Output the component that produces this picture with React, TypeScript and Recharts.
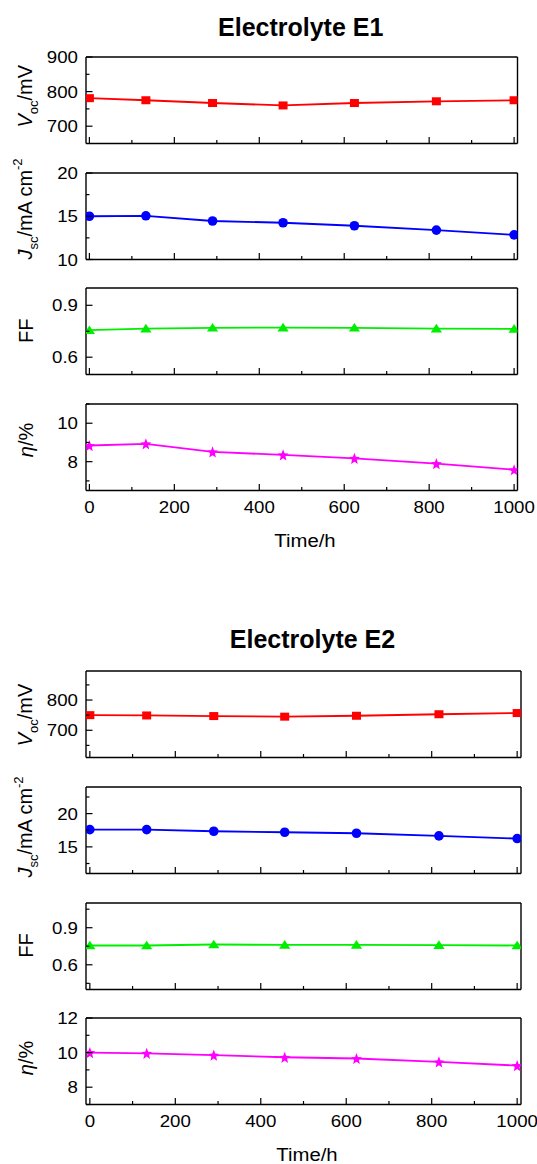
import React from 'react';
import { LineChart, Line, XAxis, YAxis } from 'recharts';

// ---------- data ----------
const TIME_H = [0, 133, 290, 456, 624, 817, 1000];
const X_MAJOR = [0, 200, 400, 600, 800, 1000];
const X_MINOR = [100, 300, 500, 700, 900];

const E1_VOC = [781, 775, 767, 760, 767, 772, 775];
const E1_JSC = [15.0, 15.05, 14.45, 14.25, 13.9, 13.4, 12.85];
const E1_FF = [0.756, 0.765, 0.77, 0.771, 0.77, 0.765, 0.764];
const E1_ETA = [8.84, 8.93, 8.51, 8.35, 8.17, 7.9, 7.58];

const E2_VOC = [750, 749, 747, 745, 748, 753, 757];
const E2_JSC = [17.6, 17.6, 17.35, 17.2, 17.05, 16.65, 16.25];
const E2_FF = [0.756, 0.756, 0.764, 0.761, 0.761, 0.759, 0.756];
const E2_ETA = [10.0, 9.96, 9.85, 9.73, 9.66, 9.46, 9.25];

const TITLES = ['Electrolyte E1', 'Electrolyte E2'];
const X_TITLE = 'Time/h';

const E1_VOC_TICKS = { major: [700, 800, 900], minor: [750, 850] };
const E1_JSC_TICKS = { major: [10, 15, 20], minor: [12.5, 17.5] };
const E1_FF_TICKS = { major: [0.6, 0.9], minor: [0.75] };
const E1_ETA_TICKS = { major: [8, 10], minor: [7, 9, 11] };
const E2_VOC_TICKS = { major: [700, 800], minor: [650, 750, 850] };
const E2_JSC_TICKS = { major: [15, 20], minor: [12.5, 17.5, 22.5] };
const E2_FF_TICKS = { major: [0.6, 0.9], minor: [0.45, 0.75, 1.05] };
const E2_ETA_TICKS = { major: [8, 10, 12], minor: [7, 9, 11] };

// ---------- layout ----------
const W = 537;
const PLOT_H = 86.5;
const FONT = '"Liberation Sans", Arial, Helvetica, sans-serif';
const COLORS = { voc: '#ff0000', jsc: '#0000ff', ff: '#00ee00', eta: '#ff00ff' };
const TICK_SX = 1.1;
const TITLE_SX = 1.05;

type Kind = 'voc' | 'jsc' | 'ff' | 'eta';

const AxisTitle = ({ kind, bx, cy }: { kind: Kind; bx: number; cy: number }) => {
  const common = {
    transform: `translate(${bx} ${cy}) scale(${TITLE_SX} 1) rotate(-90)`,
    textAnchor: 'middle' as const,
    fontSize: 20,
    fontFamily: FONT,
    fill: '#000',
  };
  if (kind === 'voc')
    return (
      <text {...common}>
        <tspan fontStyle="italic">V</tspan>
        <tspan fontSize={13} dy={6}>oc</tspan>
        <tspan dy={-6}>/mV</tspan>
      </text>
    );
  if (kind === 'jsc')
    return (
      <text {...common}>
        <tspan fontStyle="italic">J</tspan>
        <tspan fontSize={13} dy={6}>sc</tspan>
        <tspan dy={-6}>/mA cm</tspan>
        <tspan fontSize={13} dy={-9}>-2</tspan>
      </text>
    );
  if (kind === 'ff') return <text {...common}>FF</text>;
  return (
    <text {...common}>
      <tspan fontStyle="italic">η</tspan>
      <tspan>/%</tspan>
    </text>
  );
};

const Marker = ({ kind, cx, cy, color }: { kind: Kind; cx: number; cy: number; color: string }) => {
  if (kind === 'voc') return <rect x={cx - 4.5} y={cy - 4} width={9} height={8} fill={color} />;
  if (kind === 'jsc') return <circle cx={cx} cy={cy} r={4.8} fill={color} />;
  if (kind === 'ff')
    return (
      <polygon
        points={`${cx},${cy - 4.8} ${cx - 5.6},${cy + 3.8} ${cx + 5.6},${cy + 3.8}`}
        fill={color}
      />
    );
  const pts: string[] = [];
  for (let k = 0; k < 10; k++) {
    const a = (-90 + k * 36) * (Math.PI / 180);
    const r = k % 2 === 0 ? 6.2 : 2.7;
    pts.push(`${cx + r * Math.cos(a) * 0.92},${cy + 0.6 + r * Math.sin(a)}`);
  }
  return <polygon points={pts.join(' ')} fill={color} />;
};

interface PanelProps {
  top: number;
  left: number;
  right: number;
  xDomain: [number, number];
  yDomain: [number, number];
  ticks: { major: number[]; minor: number[] };
  values: number[];
  kind: Kind;
  titlePos: [number, number];
  figTitle?: { text: string; x: number; y: number };
  xTitle?: { x: number; labelDy: number; titleDy: number };
}

const Panel = ({ top, left, right, xDomain, yDomain, ticks, values, kind, titlePos, figTitle, xTitle }: PanelProps) => {
  const padTop = figTitle ? 62 : 18;
  const padBottom = xTitle ? 66 : 14;
  const chartTop = top - padTop;
  const H = PLOT_H + padTop + padBottom;
  const pb = padTop + PLOT_H;
  const color = COLORS[kind];
  const data = TIME_H.map((t, i) => ({ t, v: values[i] }));

  const renderXTick = (p: any) => {
    const v = p.payload.value;
    const x = p.x;
    const major = X_MAJOR.includes(v);
    return (
      <g key={`xt${v}`}>
        <line x1={x} x2={x} y1={pb} y2={pb - (major ? 6.5 : 3.5)} stroke="#000" strokeWidth={1.2} />
        {major && xTitle && (
          <text
            transform={`translate(${x} ${pb + xTitle.labelDy}) scale(${TICK_SX} 1)`}
            textAnchor="middle"
            fontSize={17}
            fontFamily={FONT}
            fill="#000"
          >
            {v}
          </text>
        )}
      </g>
    );
  };

  const renderYTick = (p: any) => {
    const v = p.payload.value;
    const y = p.y;
    const major = ticks.major.includes(v);
    return (
      <g key={`yt${v}`}>
        <line x1={left} x2={left + (major ? 6.5 : 3.5)} y1={y} y2={y} stroke="#000" strokeWidth={1.2} />
        {major && (
          <text
            transform={`translate(${left - 8} ${y + 6}) scale(${TICK_SX} 1)`}
            textAnchor="end"
            fontSize={17}
            fontFamily={FONT}
            fill="#000"
          >
            {String(v)}
          </text>
        )}
      </g>
    );
  };

  const renderExtras = () => (
    <g>
      <line x1={left} x2={right} y1={padTop} y2={padTop} stroke="#000" strokeWidth={1.4} />
      <line x1={right} x2={right} y1={padTop} y2={pb} stroke="#000" strokeWidth={1.4} />
      <AxisTitle kind={kind} bx={titlePos[0]} cy={titlePos[1] - chartTop} />
      {figTitle && (
        <text
          x={figTitle.x}
          y={figTitle.y - chartTop}
          textAnchor="middle"
          fontSize={25}
          fontWeight="bold"
          fontFamily={FONT}
          fill="#000"
        >
          {figTitle.text}
        </text>
      )}
      {xTitle && (
        <text
          transform={`translate(${xTitle.x} ${pb + xTitle.titleDy}) scale(1.13 1)`}
          textAnchor="middle"
          fontSize={18}
          fontFamily={FONT}
          fill="#000"
        >
          {X_TITLE}
        </text>
      )}
    </g>
  );

  const dot = (p: any) => {
    if (p.cx == null || p.cy == null) return <g key={`d${p.index}`} />;
    return <Marker key={`d${p.index}`} kind={kind} cx={p.cx} cy={p.cy} color={color} />;
  };

  return (
    <div style={{ position: 'absolute', left: 0, top: chartTop, width: W, height: H }}>
      <LineChart width={W} height={H} data={data} margin={{ top: padTop, right: W - right, bottom: 0, left: 0 }}>
        <XAxis
          dataKey="t"
          type="number"
          domain={xDomain}
          ticks={[...X_MAJOR, ...X_MINOR]}
          interval={0}
          height={padBottom}
          tickSize={0}
          tickMargin={0}
          tickLine={false}
          axisLine={{ stroke: '#000', strokeWidth: 1.4 }}
          tick={renderXTick}
          allowDataOverflow
        />
        <YAxis
          type="number"
          domain={yDomain}
          ticks={[...ticks.major, ...ticks.minor]}
          interval={0}
          width={left}
          tickSize={0}
          tickMargin={0}
          tickLine={false}
          axisLine={{ stroke: '#000', strokeWidth: 1.4 }}
          tick={renderYTick}
          allowDataOverflow
          label={renderExtras}
        />
        <Line
          type="linear"
          dataKey="v"
          stroke={color}
          strokeWidth={1.8}
          dot={dot}
          activeDot={false}
          isAnimationActive={false}
        />
      </LineChart>
    </div>
  );
};

export default function App() {
  const e1 = { left: 86, right: 517.5, xDomain: [-8, 1008] as [number, number] };
  const e2 = { left: 86, right: 521, xDomain: [-9, 1009] as [number, number] };
  return (
    <div style={{ position: 'absolute', left: 0, top: 0, width: W, height: 1164, background: '#fff' }}>
      <Panel {...e1} top={56.5} yDomain={[650, 900]} ticks={E1_VOC_TICKS} values={E1_VOC} kind="voc"
        titlePos={[31.7, 95.8]} figTitle={{ text: TITLES[0], x: 300.7, y: 35.7 }} />
      <Panel {...e1} top={172.5} yDomain={[10, 20]} ticks={E1_JSC_TICKS} values={E1_JSC} kind="jsc"
        titlePos={[31.7, 208.5]} />
      <Panel {...e1} top={288} yDomain={[0.5, 1.0]} ticks={E1_FF_TICKS} values={E1_FF} kind="ff"
        titlePos={[33.3, 330.8]} />
      <Panel {...e1} top={404} yDomain={[6.5, 11]} ticks={E1_ETA_TICKS} values={E1_ETA} kind="eta"
        titlePos={[33.3, 440]} xTitle={{ x: 305, labelDy: 22.7, titleDy: 56 }} />

      <Panel {...e2} top={671} yDomain={[610, 896]} ticks={E2_VOC_TICKS} values={E2_VOC} kind="voc"
        titlePos={[31.7, 715]} figTitle={{ text: TITLES[1], x: 312.5, y: 648.3 }} />
      <Panel {...e2} top={786.5} yDomain={[11, 24]} ticks={E2_JSC_TICKS} values={E2_JSC} kind="jsc"
        titlePos={[32, 826.5]} />
      <Panel {...e2} top={902.5} yDomain={[0.4, 1.1]} ticks={E2_FF_TICKS} values={E2_FF} kind="ff"
        titlePos={[33.3, 945]} />
      <Panel {...e2} top={1017.5} yDomain={[7, 12]} ticks={E2_ETA_TICKS} values={E2_ETA} kind="eta"
        titlePos={[33.3, 1057.5]} xTitle={{ x: 307, labelDy: 22.7, titleDy: 56 }} />
    </div>
  );
}
